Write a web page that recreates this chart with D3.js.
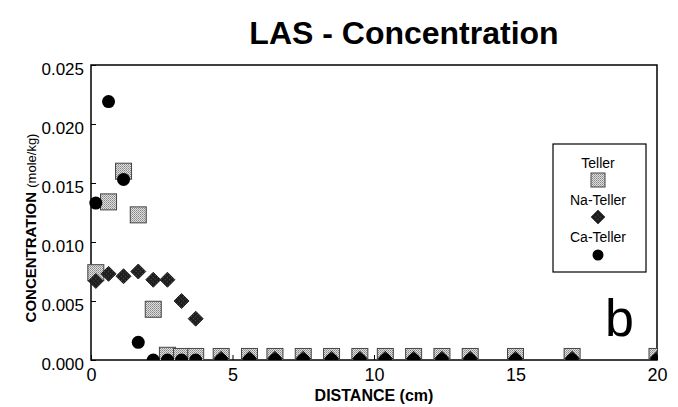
<!DOCTYPE html>
<html>
<head>
<meta charset="utf-8">
<script src="https://cdn.jsdelivr.net/npm/d3@7"></script>
<style>
  html, body { margin: 0; padding: 0; background: #fff; }
  svg { display: block; }
  text { font-family: "Liberation Sans", Arial, sans-serif; fill: #000; }
</style>
</head>
<body>
<script>
// ---- Data ----
const distance = [0.17, 0.62, 1.15, 1.67, 2.2, 2.7, 3.2, 3.7, 4.6, 5.6, 6.5, 7.5, 8.5, 9.5, 10.4, 11.4, 12.4, 13.4, 15.0, 17.0, 20.0];
const teller   = [0.0074, 0.0134, 0.0160, 0.0123, 0.0043, 0.0004, 0.0003, 0.0003, 0.0003, 0.0003, 0.0003, 0.0003, 0.0003, 0.0003, 0.0003, 0.0003, 0.0003, 0.0003, 0.0003, 0.0003, 0.0003];
const naTeller = [0.0067, 0.0073, 0.0071, 0.0075, 0.0068, 0.0068, 0.0050, 0.0035, 0.0001, 0.0001, 0.0001, 0.0001, 0.0001, 0.0001, 0.0001, 0.0001, 0.0001, 0.0001, 0.0001, 0.0001, 0.0001];
const caTeller = [0.0133, 0.0219, 0.0153, 0.0015, 0.0000, 0.0000, 0.0000, 0.0000, 0.0000, 0.0000, 0.0000, 0.0000, 0.0000, 0.0000, 0.0000, 0.0000, 0.0000, 0.0000, 0.0000, 0.0000, 0.0000];
const xTicks = [0, 5, 10, 15, 20];
const yTicks = [0, 0.005, 0.010, 0.015, 0.020, 0.025];
const seriesNames = ["Teller", "Na-Teller", "Ca-Teller"];

const W = 678, H = 407;
const M = { left: 91, right: 678 - 657, top: 65, bottom: 407 - 360 };

const svg = d3.select("body").append("svg").attr("width", W).attr("height", H);

// patterns
const defs = svg.append("defs");
const pSq = defs.append("pattern").attr("id", "stip").attr("width", 2).attr("height", 2)
  .attr("patternUnits", "userSpaceOnUse");
pSq.append("rect").attr("width", 2).attr("height", 2).attr("fill", "#e0e0e0");
pSq.append("rect").attr("width", 1).attr("height", 1).attr("fill", "#858585");
pSq.append("rect").attr("x", 1).attr("y", 1).attr("width", 1).attr("height", 1).attr("fill", "#a0a0a0");
const pDi = defs.append("pattern").attr("id", "dark").attr("width", 3).attr("height", 3)
  .attr("patternUnits", "userSpaceOnUse");
pDi.append("rect").attr("width", 3).attr("height", 3).attr("fill", "#1e1e1e");
pDi.append("rect").attr("x", 1).attr("y", 1).attr("width", 1).attr("height", 1).attr("fill", "#555");

defs.append("clipPath").attr("id", "plotclip").append("rect")
  .attr("x", M.left - 10).attr("y", M.top).attr("width", W - M.right - M.left + 10).attr("height", H - M.bottom - M.top);

const x = d3.scaleLinear().domain([0, 20]).range([M.left, W - M.right]);
const y = d3.scaleLinear().domain([0, 0.025]).range([H - M.bottom, M.top]);

// Title
svg.append("text").attr("x", 404).attr("y", 44).attr("text-anchor", "middle")
  .style("font-size", "32px").style("font-weight", "bold").text("LAS - Concentration");

// axes
const xAxis = d3.axisBottom(x).tickValues(xTicks).tickSizeInner(-5).tickSizeOuter(0)
  .tickFormat(d3.format("d"));
const gx = svg.append("g").attr("transform", `translate(0,${H - M.bottom})`).call(xAxis);
gx.select(".domain").remove();
gx.selectAll("text").style("font-size", "18px").attr("dy", "0.71em").attr("y", 8);

const yAxis = d3.axisLeft(y).tickValues(yTicks).tickSizeInner(-5).tickSizeOuter(0).tickPadding(7)
  .tickFormat(d3.format(".3f"));
const gy = svg.append("g").attr("transform", `translate(${M.left},0)`).call(yAxis);
gy.select(".domain").remove();
gy.selectAll("text").style("font-size", "17px").attr("dy", "0.55em");

// frame
svg.append("rect").attr("x", M.left).attr("y", M.top)
  .attr("width", W - M.right - M.left).attr("height", H - M.bottom - M.top)
  .attr("fill", "none").attr("stroke", "#000").attr("stroke-width", 1.5);

// axis labels
svg.append("text").attr("x", (M.left + W - M.right) / 2).attr("y", 401).attr("text-anchor", "middle")
  .style("font-size", "16px").style("font-weight", "bold").text("DISTANCE (cm)");
const yl = svg.append("text").attr("transform", "translate(36,228) rotate(-90)").attr("text-anchor", "middle");
yl.append("tspan").style("font-size", "15px").style("font-weight", "bold").text("CONCENTRATION ");
yl.append("tspan").style("font-size", "13px").text("(mole/kg)");

// marks
const plot = svg.append("g").attr("clip-path", "url(#plotclip)");
const sq = 16, dia = 15, cr = 6.5;
const tellerData = distance.map((d, i) => ({ x: d, y: teller[i] }));
const naData = distance.map((d, i) => ({ x: d, y: naTeller[i] }));
const caData = distance.map((d, i) => ({ x: d, y: caTeller[i] }));

plot.selectAll("rect.teller").data(tellerData).join("rect").attr("class", "teller")
  .attr("x", d => x(d.x) - sq / 2).attr("y", d => y(d.y) - sq / 2)
  .attr("width", sq).attr("height", sq)
  .attr("fill", "url(#stip)").attr("stroke", "#444").attr("stroke-width", 1);

const diamond = d3.symbol().type(d3.symbolSquare).size(dia * dia / 2);
plot.selectAll("path.na").data(naData).join("path").attr("class", "na")
  .attr("d", diamond)
  .attr("transform", d => `translate(${x(d.x)},${y(d.y)}) rotate(45)`)
  .attr("fill", "url(#dark)").attr("stroke", "#111").attr("stroke-width", 0.8);

plot.selectAll("circle.ca").data(caData).join("circle").attr("class", "ca")
  .attr("cx", d => x(d.x)).attr("cy", d => y(d.y)).attr("r", cr).attr("fill", "#000");

// legend
const lg = svg.append("g");
lg.append("rect").attr("x", 553).attr("y", 144).attr("width", 93).attr("height", 128)
  .attr("fill", "#fff").attr("stroke", "#000").attr("stroke-width", 1.2);
const lcx = 598;
lg.append("text").attr("x", lcx).attr("y", 168).attr("text-anchor", "middle").style("font-size", "14px").text(seriesNames[0]);
lg.append("rect").attr("x", lcx - 7).attr("y", 173).attr("width", 14).attr("height", 14)
  .attr("fill", "url(#stip)").attr("stroke", "#444");
lg.append("text").attr("x", lcx).attr("y", 205).attr("text-anchor", "middle").style("font-size", "14px").text(seriesNames[1]);
lg.append("path").attr("d", d3.symbol().type(d3.symbolSquare).size(13 * 13 / 2))
  .attr("transform", `translate(${lcx},217) rotate(45)`).attr("fill", "url(#dark)").attr("stroke", "#111");
lg.append("text").attr("x", lcx).attr("y", 242).attr("text-anchor", "middle").style("font-size", "14px").text(seriesNames[2]);
lg.append("circle").attr("cx", lcx).attr("cy", 255).attr("r", 5.5).attr("fill", "#000");

// panel letter
svg.append("text").attr("x", 605).attr("y", 336).style("font-size", "52px").text("b");
</script>
</body>
</html>
